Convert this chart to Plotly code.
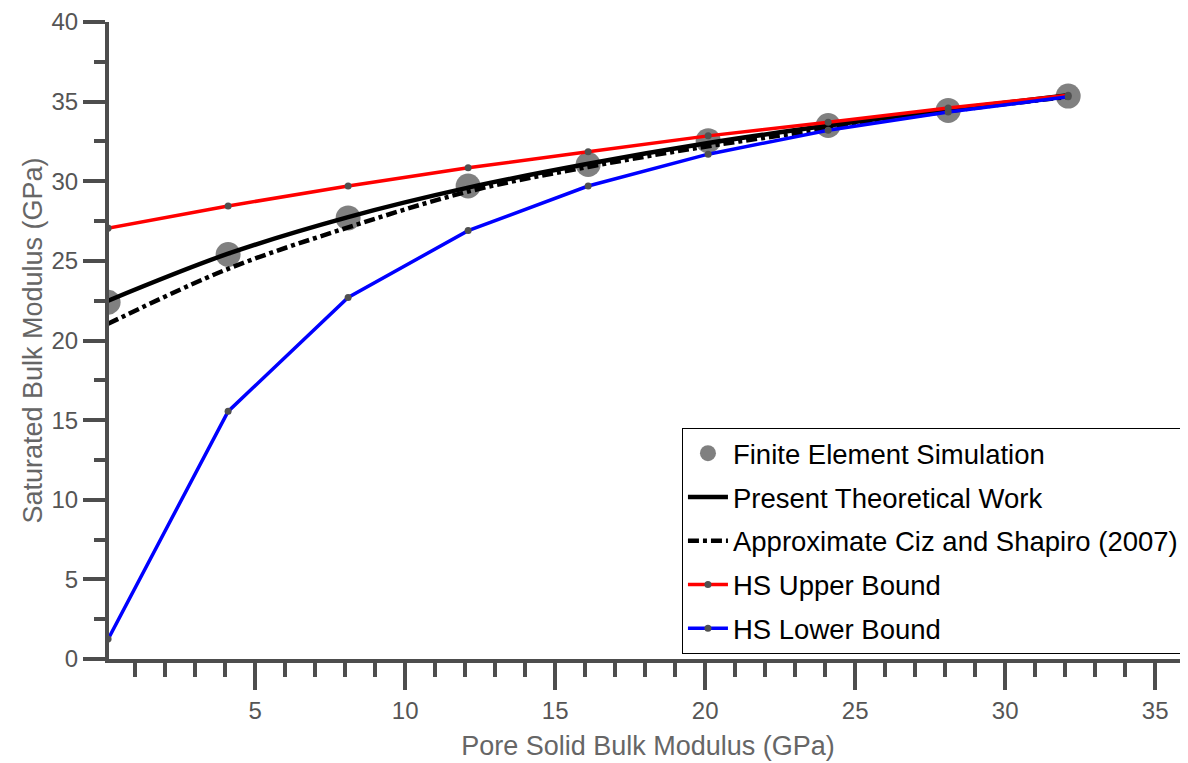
import plotly.graph_objects as go

# ---- data ----
pore_modulus = [0.1, 4.1, 8.1, 12.1, 16.1, 20.1, 24.1, 28.1, 32.1]
fe_simulation = [22.4, 25.4, 27.7, 29.7, 31.05, 32.55, 33.5, 34.45, 35.35]
present_theory = [22.5, 25.45, 27.75, 29.6, 31.1, 32.4, 33.5, 34.5, 35.4]
ciz_shapiro = [21.05, 24.5, 27.1, 29.35, 30.9, 32.2, 33.3, 34.4, 35.3]
hs_upper = [27.05, 28.45, 29.7, 30.85, 31.85, 32.85, 33.7, 34.6, 35.4]
hs_lower = [1.25, 15.55, 22.7, 26.9, 29.7, 31.7, 33.2, 34.35, 35.3]

FONT = "Liberation Sans, Arial, sans-serif"
AXIS_COLOR = "#4d4d4d"

fig = go.Figure()

fig.add_trace(go.Scatter(
    x=pore_modulus, y=fe_simulation, mode="markers",
    name="Finite Element Simulation", legendgroup="a",
    marker=dict(size=25, color="#808080"),
))
fig.add_trace(go.Scatter(
    x=pore_modulus, y=present_theory, mode="lines",
    name="Present Theoretical Work", legendgroup="b",
    line=dict(color="black", width=4.5, shape="spline"),
))
fig.add_trace(go.Scatter(
    x=pore_modulus, y=ciz_shapiro, mode="lines",
    name="Approximate Ciz and Shapiro (2007)", legendgroup="c",
    line=dict(color="black", width=4.5, shape="spline", dash="11px,4px,4px,4px"),
))
fig.add_trace(go.Scatter(
    x=pore_modulus, y=hs_upper, mode="lines+markers",
    name="HS Upper Bound", legendgroup="d",
    line=dict(color="#ff0000", width=3.5),
    marker=dict(size=7, color="#505050"),
))
fig.add_trace(go.Scatter(
    x=pore_modulus, y=hs_lower, mode="lines+markers",
    name="HS Lower Bound", legendgroup="e",
    line=dict(color="#0000ff", width=3.5),
    marker=dict(size=7, color="#505050"),
))

axis_common = dict(
    showline=True, linewidth=4, linecolor=AXIS_COLOR,
    showgrid=False, zeroline=False, automargin=False,
    ticks="outside", tickwidth=4, tickcolor=AXIS_COLOR,
    ticklabeloverflow="allow",
    tickfont=dict(family=FONT, size=24, color="#555555"),
)

fig.update_xaxes(
    range=[0.13, 36.06], dtick=5, tick0=0, ticklen=27,
    minor=dict(dtick=1, ticklen=14, tickwidth=4, tickcolor=AXIS_COLOR, ticks="outside"),
    title=dict(text="Pore Solid Bulk Modulus (GPa)",
               font=dict(family=FONT, size=27, color="#666666"), standoff=14),
    **axis_common,
)
fig.update_yaxes(
    range=[0, 40], dtick=5, tick0=0, ticklen=22,
    minor=dict(dtick=2.5, ticklen=11, tickwidth=4, tickcolor=AXIS_COLOR, ticks="outside"),
    title=dict(text="Saturated Bulk Modulus (GPa)",
               font=dict(family=FONT, size=27, color="#666666"), standoff=2),
    **axis_common,
)

fig.update_layout(
    width=1180, height=755,
    margin=dict(l=101, r=1, t=14, b=104),
    plot_bgcolor="white", paper_bgcolor="white",
    showlegend=True,
    legend=dict(
        x=0.5315, y=0.363, xanchor="left", yanchor="top",
        bordercolor="black", borderwidth=1, bgcolor="white",
        font=dict(family=FONT, size=27.5, color="black"),
        tracegroupgap=5, itemwidth=40,
    ),
)

fig.write_html("out.html")
